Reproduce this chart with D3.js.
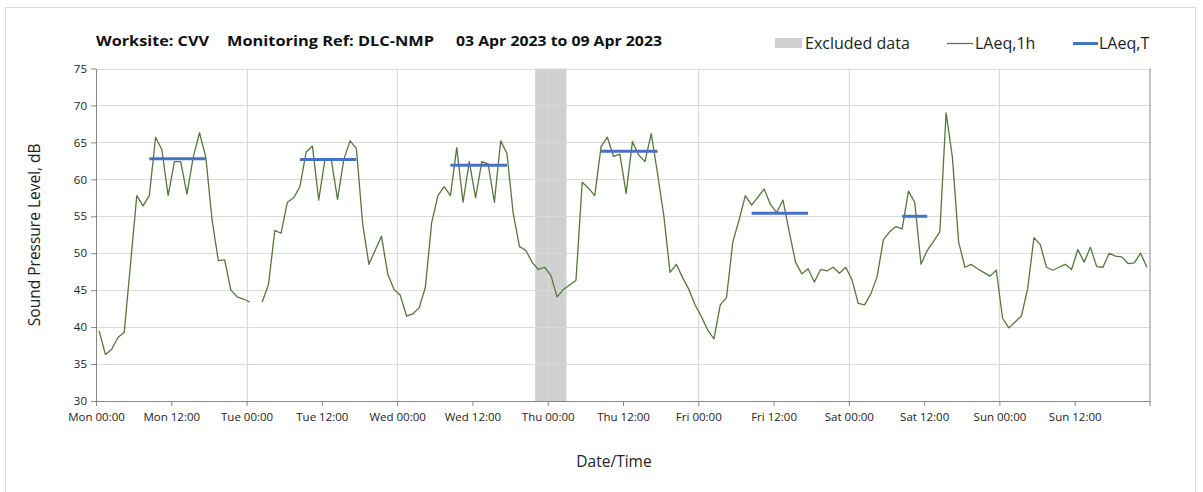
<!DOCTYPE html>
<html>
<head>
<meta charset="utf-8">
<title>LAeq chart</title>
<script src="https://cdn.jsdelivr.net/npm/d3@7"></script>
<style>
  body { margin: 0; background: #fff; }
  svg text { font-family: "Open Sans", "Noto Sans", sans-serif; }
</style>
</head>
<body>
<div id="chart"></div>
<script>
var W = 1203, H = 492;

// hourly LAeq,1h, first value for Mon 00:00-01:00 (null = no data)
var laeq1h = [
  39.5, 36.3, 37.0, 38.6, 39.3, 48.5, 57.8, 56.4, 57.8, 65.7, 64.0, 57.8,
  62.4, 62.4, 58.0, 63.0, 66.3, 63.0, 54.5, 49.0, 49.1, 45.0, 44.1, 43.8,
  43.4, null, 43.4, 45.8, 53.1, 52.7, 56.9, 57.5, 59.0, 63.7, 64.5, 57.2,
  62.7, 62.7, 57.3, 62.7, 65.2, 64.2, 54.0, 48.5, 50.4, 52.3, 47.2, 45.1,
  44.3, 41.5, 41.8, 42.6, 45.4, 54.1, 57.8, 59.0, 57.8, 64.3, 56.9, 62.4,
  57.5, 62.4, 62.1, 56.9, 65.2, 63.5, 55.4, 50.9, 50.4, 48.8, 47.8, 48.1,
  47.0, 44.1, 45.1, 45.7, 46.3, 59.6, 58.8, 57.8, 64.4, 65.7, 63.1, 63.4,
  58.1, 65.1, 63.3, 62.4, 66.2, 60.8, 55.1, 47.4, 48.5, 46.7, 45.1, 43.0,
  41.4, 39.6, 38.4, 43.0, 44.0, 51.5, 54.5, 57.8, 56.5, 57.6, 58.7, 56.6,
  55.5, 57.2, 52.9, 48.8, 47.2, 47.9, 46.1, 47.8, 47.6, 48.1, 47.3, 48.1,
  46.4, 43.2, 43.0, 44.5, 46.8, 51.8, 52.9, 53.6, 53.3, 58.4, 56.9, 48.5,
  50.4, 51.6, 52.9, 69.0, 63.0, 51.5, 48.1, 48.5, 47.9, 47.4, 46.9, 47.7,
  41.2, 39.9, 40.7, 41.5, 45.2, 52.1, 51.2, 48.1, 47.7, 48.1, 48.5, 47.8,
  50.5, 48.8, 50.8, 48.2, 48.1, 50.0, 49.6, 49.5, 48.6, 48.7, 50.0, 48.1
];

// LAeq,T period levels
var periodStart = ["2023-04-03T08:30", "2023-04-04T08:30", "2023-04-05T08:30",
                   "2023-04-06T08:30", "2023-04-07T08:30", "2023-04-08T08:30"];
var periodEnd   = ["2023-04-03T17:30", "2023-04-04T17:30", "2023-04-05T17:30",
                   "2023-04-06T17:30", "2023-04-07T17:30", "2023-04-08T12:30"];
var periodLevel = [62.8, 62.7, 61.9, 63.8, 55.4, 55.0];

// excluded data window
var excludedStart = ["2023-04-05T22:00"];
var excludedEnd   = ["2023-04-06T03:00"];

var yTicks = [30, 35, 40, 45, 50, 55, 60, 65, 70, 75];

var parse = d3.utcParse("%Y-%m-%dT%H:%M");
var t0 = parse("2023-04-03T00:00"), t1 = parse("2023-04-10T00:00");

var series = laeq1h.map(function(v, i) {
  return { t: d3.utcMinute.offset(t0, i * 60 + 30), v: v };
});

var margin = { left: 96, right: 53, top: 68.5, bottom: 91 };

var x = d3.scaleUtc().domain([t0, t1]).range([margin.left, W - margin.right]);
var y = d3.scaleLinear().domain([30, 75]).range([H - margin.bottom, margin.top]);

var svg = d3.select("#chart").append("svg")
  .attr("width", W).attr("height", H);

// outer frame
svg.append("rect")
  .attr("x", 5.5).attr("y", 7.5)
  .attr("width", 1190).attr("height", 500)
  .attr("fill", "none").attr("stroke", "#d9d9d9");

// excluded shading
svg.selectAll("rect.excl")
  .data(excludedStart)
  .enter().append("rect")
  .attr("class", "excl")
  .attr("x", function(d) { return x(parse(d)); })
  .attr("width", function(d, i) { return x(parse(excludedEnd[i])) - x(parse(d)); })
  .attr("y", y(75)).attr("height", y(30) - y(75))
  .attr("fill", "#d0d0d0");

// gridlines
svg.append("g").selectAll("line")
  .data(yTicks.slice(1))
  .enter().append("line")
  .attr("x1", x(t0)).attr("x2", x(t1))
  .attr("y1", function(d) { return Math.round(y(d)) + 0.5; })
  .attr("y2", function(d) { return Math.round(y(d)) + 0.5; })
  .attr("stroke", "#d9d9d9").attr("stroke-width", 1.2);

var dayTicks = d3.utcDay.range(d3.utcDay.offset(t0, 1), t1);
svg.append("g").selectAll("line")
  .data(dayTicks)
  .enter().append("line")
  .attr("x1", function(d) { return Math.round(x(d)) + 0.5; })
  .attr("x2", function(d) { return Math.round(x(d)) + 0.5; })
  .attr("y1", y(75)).attr("y2", y(30))
  .attr("stroke", "#d9d9d9").attr("stroke-width", 1.2);

// axes
var xTickVals = d3.utcHour.every(12).range(t0, t1);
var xAxis = d3.axisBottom(x)
  .tickValues(xTickVals)
  .tickFormat(d3.utcFormat("%a %H:%M"))
  .tickSize(5).tickSizeOuter(0);
var gx = svg.append("g")
  .attr("transform", "translate(0," + y(30) + ")")
  .call(xAxis);
gx.select(".domain").attr("stroke", "#868686");
gx.selectAll(".tick line").attr("stroke", "#868686");
gx.selectAll(".tick text")
  .attr("dy", "1.05em")
  .style("font-size", "11.5px").attr("fill", "#222");

var yAxis = d3.axisLeft(y).tickValues(yTicks).tickSize(5).tickSizeOuter(0);
var gy = svg.append("g")
  .attr("transform", "translate(" + x(t0) + ",0)")
  .call(yAxis);
gy.select(".domain").attr("stroke", "#868686");
gy.selectAll(".tick line").attr("stroke", "#868686");
gy.selectAll(".tick text")
  .attr("x", -9)
  .style("font-size", "11.5px").attr("fill", "#222");

// right border
svg.append("line")
  .attr("x1", x(t1)).attr("x2", x(t1))
  .attr("y1", y(75)).attr("y2", y(30) + 5)
  .attr("stroke", "#868686");

// LAeq,1h line
var line = d3.line()
  .defined(function(d) { return d.v !== null; })
  .x(function(d) { return x(d.t); })
  .y(function(d) { return y(d.v); });

svg.append("path")
  .datum(series)
  .attr("d", line)
  .attr("fill", "none")
  .attr("stroke", "#55773c")
  .attr("stroke-width", 1.3)
  .attr("stroke-linejoin", "round");

// LAeq,T lines
svg.append("g").selectAll("line")
  .data(periodLevel)
  .enter().append("line")
  .attr("x1", function(d, i) { return x(parse(periodStart[i])); })
  .attr("x2", function(d, i) { return x(parse(periodEnd[i])); })
  .attr("y1", function(d) { return y(d); })
  .attr("y2", function(d) { return y(d); })
  .attr("stroke", "#4472c4").attr("stroke-width", 3);

// title
var title = svg.append("g").attr("font-weight", "bold").style("font-size", "15px").attr("fill", "#111");
title.append("text").attr("x", 96).attr("y", 46).attr("textLength", 113)
  .attr("lengthAdjust", "spacingAndGlyphs").text("Worksite: CVV");
title.append("text").attr("x", 227).attr("y", 46).attr("textLength", 207)
  .attr("lengthAdjust", "spacingAndGlyphs").text("Monitoring Ref: DLC-NMP");
title.append("text").attr("x", 456).attr("y", 46).attr("textLength", 206)
  .attr("lengthAdjust", "spacingAndGlyphs").text("03 Apr 2023 to 09 Apr 2023");

// legend
var lg = svg.append("g").style("font-size", "16px").attr("fill", "#222");
lg.append("rect").attr("x", 775).attr("y", 38).attr("width", 27).attr("height", 10).attr("fill", "#d0d0d0");
lg.append("text").attr("x", 805).attr("y", 49).text("Excluded data");
lg.append("line").attr("x1", 947).attr("x2", 973).attr("y1", 43.5).attr("y2", 43.5)
  .attr("stroke", "#55773c").attr("stroke-width", 1.3);
lg.append("text").attr("x", 975).attr("y", 49).text("LAeq,1h");
lg.append("line").attr("x1", 1073).attr("x2", 1098).attr("y1", 43.5).attr("y2", 43.5)
  .attr("stroke", "#4472c4").attr("stroke-width", 3);
lg.append("text").attr("x", 1099).attr("y", 49).text("LAeq,T");

// axis titles
svg.append("text")
  .attr("transform", "translate(40," + ((y(75) + y(30)) / 2) + ") rotate(-90)")
  .attr("text-anchor", "middle")
  .style("font-size", "15.5px").attr("fill", "#222")
  .text("Sound Pressure Level, dB");

svg.append("text")
  .attr("x", 614).attr("y", 467)
  .attr("text-anchor", "middle")
  .style("font-size", "15.5px").attr("fill", "#222")
  .text("Date/Time");
</script>
</body>
</html>
